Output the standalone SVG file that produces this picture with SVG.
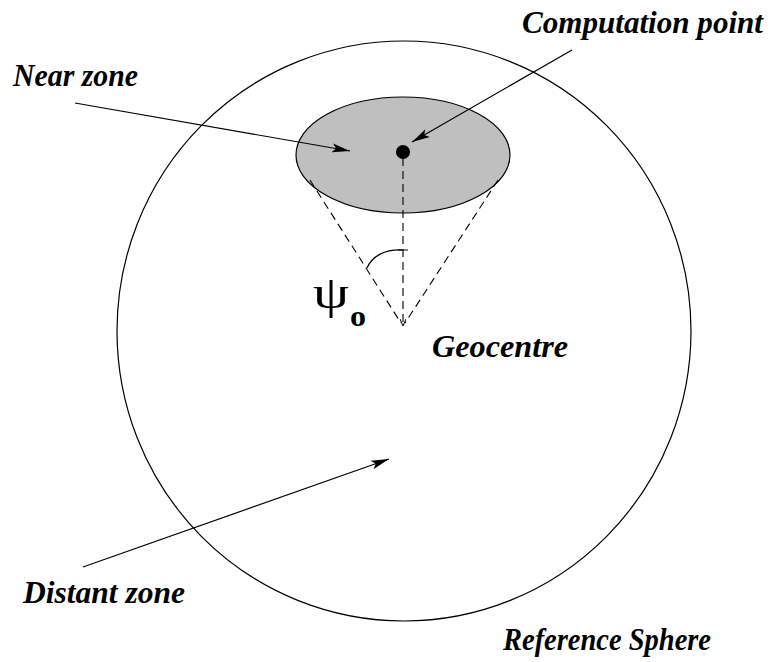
<svg xmlns="http://www.w3.org/2000/svg" width="772" height="662" viewBox="0 0 772 662">
<style>
.lbl{font-family:"Liberation Serif","Times New Roman",serif;font-weight:bold;font-style:italic;font-size:32px;fill:#000}
.ln{stroke:#000;stroke-width:1.2;fill:none}
.dash{stroke:#000;stroke-width:1.1;fill:none;stroke-dasharray:8 5}
</style>
<defs>
<marker id="ah" markerWidth="20" markerHeight="10" refX="18" refY="5" orient="auto" markerUnits="userSpaceOnUse">
<path d="M0,0.5 L18,5 L0,9.5 L4,5 Z" fill="#000"/>
</marker>
<marker id="sah" markerWidth="8" markerHeight="6" refX="7" refY="3" orient="auto" markerUnits="userSpaceOnUse">
<path d="M0,0 L7,3 L0,6" fill="none" stroke="#000" stroke-width="1"/>
</marker>
</defs>
<g id="reference-sphere">
<ellipse cx="404" cy="331" rx="287" ry="290" class="ln"/>
</g>
<g id="near-zone">
<ellipse cx="403" cy="155" rx="107" ry="58" fill="#bfbfbf" stroke="#000" stroke-width="1.2"/>
</g>
<g id="cone">
<line x1="310" y1="180" x2="401" y2="323" class="dash"/>
<line x1="498" y1="180" x2="405" y2="323" class="dash"/>
<line x1="403" y1="158" x2="403" y2="326" class="dash" marker-end="url(#sah)"/>
<path d="M367,268 C372,256 385,249 403,250" class="ln"/>
<line x1="398" y1="250" x2="408" y2="250" stroke="#000" stroke-width="1"/>
</g>
<g id="computation-point">
<circle cx="403" cy="152" r="7" fill="#000"/>
</g>
<g id="connectors">
<line x1="75" y1="103" x2="350" y2="151" class="ln" marker-end="url(#ah)"/>
<line x1="572" y1="50" x2="412" y2="142" class="ln" marker-end="url(#ah)"/>
<line x1="83" y1="567" x2="389" y2="459" class="ln" marker-end="url(#ah)"/>
</g>
<g id="labels">
<text class="lbl" x="13" y="86" textLength="125" lengthAdjust="spacingAndGlyphs">Near zone</text>
<text class="lbl" x="522" y="33" textLength="241" lengthAdjust="spacingAndGlyphs">Computation point</text>
<text class="lbl" x="432" y="357" textLength="136" lengthAdjust="spacingAndGlyphs">Geocentre</text>
<text class="lbl" x="23" y="603" textLength="162" lengthAdjust="spacingAndGlyphs">Distant zone</text>
<text class="lbl" x="503" y="650" textLength="208" lengthAdjust="spacingAndGlyphs">Reference Sphere</text>
<text x="313" y="308" font-family="Liberation Serif, serif" font-size="46" textLength="36" lengthAdjust="spacingAndGlyphs">ψ</text>
<text x="350" y="326" font-family="Liberation Serif, serif" font-size="30" font-weight="bold" textLength="16" lengthAdjust="spacingAndGlyphs">o</text>
</g>
</svg>
